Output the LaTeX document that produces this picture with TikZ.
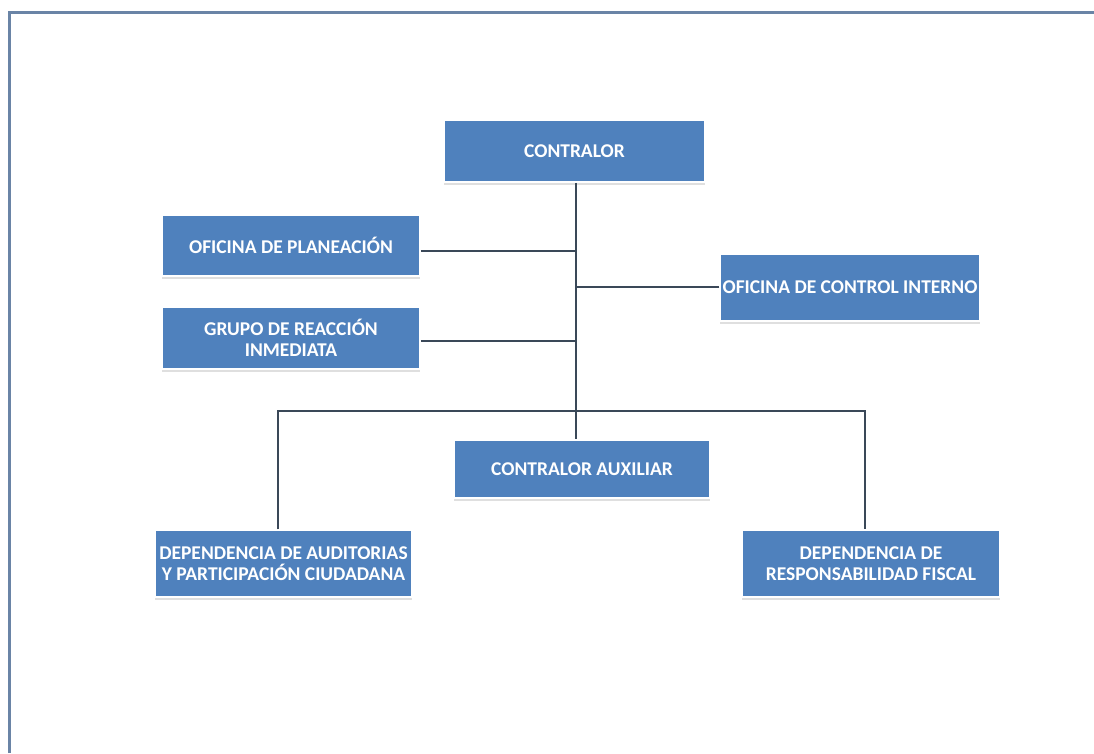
\documentclass[tikz,border=0pt]{standalone}
\usepackage{fontspec}
\setmainfont{Carlito}
\usetikzlibrary{shadows}
\definecolor{boxblue}{HTML}{4F81BD}
\definecolor{lineclr}{HTML}{3A4858}
\definecolor{frameclr}{HTML}{6A84A6}
\tikzset{
  orgbox/.style={rectangle, fill=boxblue, draw=white, line width=1.5pt,
    text=white, font=\fontsize{19.5}{21}\selectfont\bfseries, align=center,
    inner sep=0pt,
    drop shadow={shadow xshift=0pt, shadow yshift=-2.5pt, opacity=0.25, fill=black!50}},
  conn/.style={draw=lineclr, line width=1.8pt},
}
\begin{document}
\begin{tikzpicture}[x=1pt,y=-1pt]
\useasboundingbox (0,0) rectangle (1094,753);
\fill[white] (0,0) rectangle (1094,753);
\draw[frameclr, line width=3pt] (9.5,753) -- (9.5,12) -- (1094,12);

\node[orgbox, minimum width=261pt, minimum height=62pt] (contralor) at (574.5,151) {CONTRALOR};
\node[orgbox, minimum width=258pt, minimum height=61pt] (plan) at (291,245.5) {OFICINA DE PLANEACIÓN};
\node[orgbox, minimum width=258pt, minimum height=62pt] (grupo) at (291,338) {GRUPO DE REACCIÓN\\INMEDIATA};
\node[orgbox, minimum width=260pt, minimum height=67pt] (control) at (850,287.5) {OFICINA DE CONTROL INTERNO};
\node[orgbox, minimum width=256pt, minimum height=58pt] (aux) at (582,469) {CONTRALOR AUXILIAR};
\node[orgbox, minimum width=257pt, minimum height=67pt] (audit) at (283.5,563.5) {DEPENDENCIA DE AUDITORIAS\\Y PARTICIPACIÓN CIUDADANA};
\node[orgbox, minimum width=258pt, minimum height=67pt] (fiscal) at (871,563.5) {DEPENDENCIA DE\\RESPONSABILIDAD FISCAL};

\coordinate (bus) at (576,411);
\coordinate (busL) at (278,411);
\coordinate (busR) at (865,411);
\draw[conn] (contralor.south -| bus) -- (aux.north -| bus);
\draw[conn] (plan.east |- 0,251) -- (bus |- 0,251);
\draw[conn] (grupo.east |- 0,341) -- (bus |- 0,341);
\draw[conn] (control.west |- 0,287) -- (bus |- 0,287);
\draw[conn] (audit.north -| busL) -- (busL) -- (busR) -- (fiscal.north -| busR);
\end{tikzpicture}
\end{document}
